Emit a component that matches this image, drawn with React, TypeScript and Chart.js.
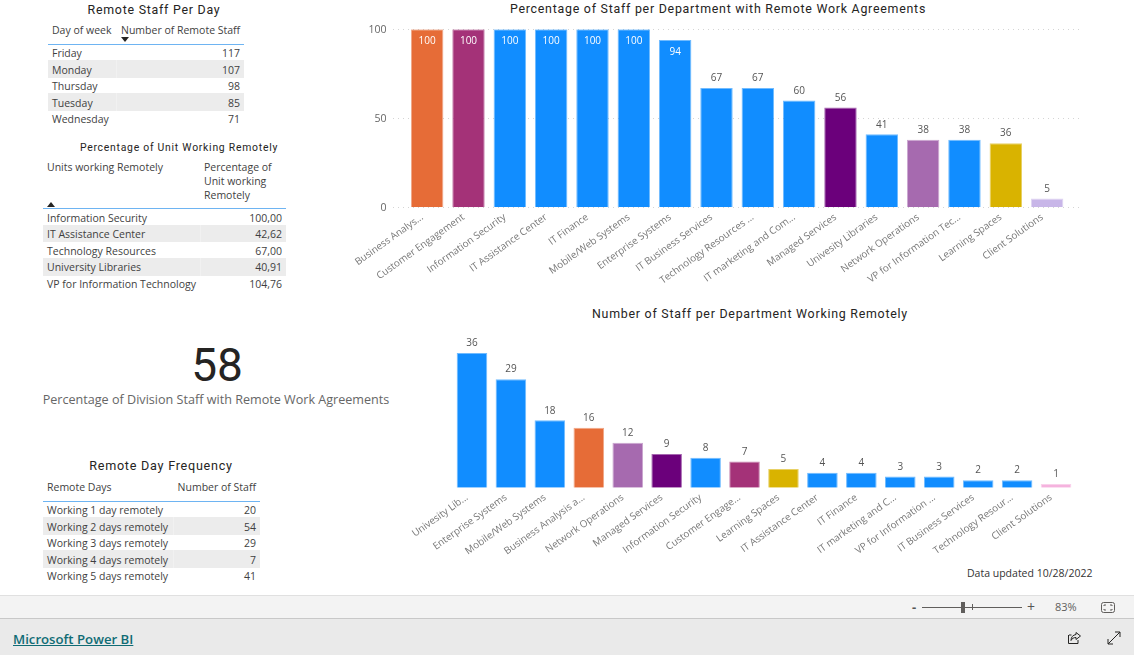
import React, { useEffect, useRef } from "react";
import { Chart, registerables } from "chart.js";

Chart.register(...registerables);

const BODY = "'Open Sans', sans-serif";
const HEAD = "Roboto, sans-serif";

const BLUE = "#118DFF";
const ORANGE = "#E66C37";
const MAGENTA = "#A43278";
const PURPLE = "#6B007B";
const MAUVE = "#A66AAF";
const GOLD = "#D9B300";
const LILAC = "#C8B6E8";
const PINK = "#F5B3DE";

const pctLabels = ["Business Analys...", "Customer Engagement", "Information Security", "IT Assistance Center", "IT Finance", "Mobile/Web Systems", "Enterprise Systems", "IT Business Services", "Technology Resources ...", "IT marketing and Com...", "Managed Services", "Univesity Libraries", "Network Operations", "VP for Information Tec...", "Learning Spaces", "Client Solutions"];
const pctValues = [100, 100, 100, 100, 100, 100, 94, 67, 67, 60, 56, 41, 38, 38, 36, 5];
const pctColors = [ORANGE, MAGENTA, BLUE, BLUE, BLUE, BLUE, BLUE, BLUE, BLUE, BLUE, PURPLE, BLUE, MAUVE, BLUE, GOLD, LILAC];
const pctTicks = [0, 50, 100];

const numLabels = ["Univesity Lib...", "Enterprise Systems", "Mobile/Web Systems", "Business Analysis a...", "Network Operations", "Managed Services", "Information Security", "Customer Engage...", "Learning Spaces", "IT Assistance Center", "IT Finance", "IT marketing and C...", "VP for Information ...", "IT Business Services", "Technology Resour...", "Client Solutions"];
const numValues = [36, 29, 18, 16, 12, 9, 8, 7, 5, 4, 4, 3, 3, 2, 2, 1];
const numColors = [BLUE, BLUE, BLUE, ORANGE, MAUVE, PURPLE, BLUE, MAGENTA, GOLD, BLUE, BLUE, BLUE, BLUE, BLUE, BLUE, PINK];

const dayRows = [["Friday", "117"], ["Monday", "107"], ["Thursday", "98"], ["Tuesday", "85"], ["Wednesday", "71"]];
const unitRows = [["Information Security", "100,00"], ["IT Assistance Center", "42,62"], ["Technology Resources", "67,00"], ["University Libraries", "40,91"], ["VP for Information Technology", "104,76"]];
const freqRows = [["Working 1 day remotely", "20"], ["Working 2 days remotely", "54"], ["Working 3 days remotely", "29"], ["Working 4 days remotely", "7"], ["Working 5 days remotely", "41"]];

const lighten = (hex: string) => hex + "99";

const valueLabels = (insideFrom: number) => ({
  id: "valueLabels",
  afterDatasetsDraw(chart: any) {
    const { ctx } = chart;
    const values = chart.data.datasets[0].data as number[];
    ctx.save();
    ctx.font = `10px ${BODY}`;
    ctx.textAlign = "center";
    ctx.textBaseline = "middle";
    chart.getDatasetMeta(0).data.forEach((bar: any, i: number) => {
      const inside = values[i] >= insideFrom;
      ctx.fillStyle = inside ? "#FFFFFF" : "#555555";
      ctx.fillText(String(values[i]), bar.x, inside ? bar.y + 12.2 : bar.y - 9.6);
    });
    ctx.restore();
  },
});

const wideGrid = (leftExtra: number, rightExtra: number) => ({
  id: "wideGrid",
  beforeDatasetsDraw(chart: any) {
    const { ctx, chartArea, scales } = chart;
    if (!scales.y.options.display) return;
    ctx.save();
    ctx.strokeStyle = "#D4D4D4";
    ctx.lineWidth = 1;
    ctx.setLineDash([1, 4]);
    scales.y.ticks.forEach((t: any) => {
      const y = Math.round(scales.y.getPixelForValue(t.value)) + 0.5;
      ctx.beginPath();
      ctx.moveTo(chartArea.left - leftExtra, y);
      ctx.lineTo(chartArea.right + rightExtra, y);
      ctx.stroke();
    });
    ctx.restore();
  },
});

function BarChart(props: {
  labels: string[]; values: number[]; colors: string[]; max: number; ticks: number[] | null; insideFrom: number;
  left: number; top: number; width: number; height: number; plotLeft: number; plotRight: number; plotTop: number; plotBottom: number;
}) {
  const ref = useRef<HTMLCanvasElement>(null);
  useEffect(() => {
    const { labels, values, colors, max, ticks, insideFrom, left, top, width, height, plotLeft, plotRight, plotTop, plotBottom } = props;
    const showY = !!ticks;
    const chart = new Chart(ref.current as HTMLCanvasElement, {
      type: "bar",
      data: {
        labels,
        datasets: [{
          data: values,
          backgroundColor: colors,
          borderColor: colors.map(lighten),
          borderWidth: 1,
          barPercentage: 0.785,
          categoryPercentage: 1,
        }],
      },
      options: {
        animation: false,
        responsive: false,
        devicePixelRatio: 1,
        layout: {
          padding: {
            left: showY ? 0 : plotLeft - left,
            right: left + width - plotRight,
            top: plotTop - top,
            bottom: 0,
          },
        },
        plugins: { legend: { display: false }, title: { display: false }, tooltip: { enabled: false } },
        scales: {
          x: {
            grid: { display: false, drawTicks: false },
            border: { display: false },
            afterFit: (s: any) => { s.height = top + height - plotBottom; },
            ticks: {
              autoSkip: false, minRotation: 35.5, maxRotation: 35.5, padding: 4, labelOffset: -5,
              color: "#777777", font: { family: BODY, size: 9.9 },
            },
          },
          y: {
            display: showY,
            min: 0,
            max,
            grid: { display: false, drawTicks: true, tickLength: 18 },
            border: { display: false },
            afterFit: (s: any) => { if (showY) s.width = plotLeft - left; },
            afterBuildTicks: (s: any) => { if (ticks) s.ticks = ticks.map((value) => ({ value })); },
            ticks: { padding: 2, labelOffset: 1, color: "#666666", font: { family: BODY, size: 10.5 } },
          },
        },
      },
      plugins: [valueLabels(insideFrom), wideGrid(13.5, 12.5)],
    } as any);
    return () => chart.destroy();
  }, []);
  return (
    <canvas ref={ref} width={props.width} height={props.height}
      style={{ position: "absolute", left: props.left, top: props.top, width: props.width, height: props.height, display: "block" }} />
  );
}

const at = (x: number, y: number, extra: React.CSSProperties = {}): React.CSSProperties => ({
  position: "absolute", left: x, top: y, whiteSpace: "nowrap", lineHeight: "16px", ...extra,
});

function Title(p: { text: string; cx: number; cy: number; size?: number; spacing?: number }) {
  return (
    <div style={at(p.cx - 300, p.cy - 10, { width: 600, textAlign: "center", lineHeight: "20px", color: "#252423", fontFamily: HEAD, fontSize: p.size ?? 12.4, letterSpacing: p.spacing ?? 0.75 })}>{p.text}</div>
  );
}

function Arrow(p: { x: number; y: number; up?: boolean }) {
  return (
    <svg style={{ position: "absolute", left: p.x, top: p.y }} width="8" height="5">
      <polygon points={p.up ? "0,5 8,5 4,0" : "0,0 8,0 4,5"} fill="#252423" />
    </svg>
  );
}

function Rows(p: { rows: string[][]; left: number; right: number; rowYs: number[]; stripes: number[][]; sep: number }) {
  const { rows, left, right, rowYs, stripes, sep } = p;
  return (
    <>
      {stripes.map((s, i) => (
        <div key={"s" + i} style={{ position: "absolute", left, top: s[0], width: right - left, height: s[1] - s[0], background: "#ECECEC" }} />
      ))}
      {stripes.map((s, i) => (
        <div key={"c" + i} style={{ position: "absolute", left: sep, top: s[0], width: 1, height: s[1] - s[0], background: "#F1F1F1" }} />
      ))}
      {rows.map((r, i) => (
        <React.Fragment key={i}>
          <div style={at(left + 4, rowYs[i] - 8, { color: "#3F3F3F" })}>{r[0]}</div>
          <div style={at(right - 104, rowYs[i] - 8, { width: 100, textAlign: "right", color: "#3F3F3F" })}>{r[1]}</div>
        </React.Fragment>
      ))}
    </>
  );
}

const rule = (x: number, w: number, y: number): React.CSSProperties => ({
  position: "absolute", left: x, top: y, width: w, height: 1, background: "#6EB4F2",
});

export default function App() {
  useEffect(() => { document.body.style.margin = "0"; }, []);
  return (
    <div style={{ position: "absolute", left: 0, top: 0, width: 1134, height: 655, overflow: "hidden", background: "#FFFFFF", fontFamily: BODY, fontSize: 10.5 }}>
      <Title text="Remote Staff Per Day" cx={154} cy={10} size={12.4} />
      <div style={at(52, 22, { color: "#3F3F3F" })}>Day of week</div>
      <div style={at(121, 22, { color: "#3F3F3F" })}>Number of Remote Staff</div>
      <Arrow x={121} y={37} />
      <div style={rule(48, 196, 44)} />
      <Rows rows={dayRows} left={48} right={244} rowYs={[53, 70, 86, 103, 119]} stripes={[[60, 78], [93, 111]]} sep={116} />

      <Title text="Percentage of Unit Working Remotely" cx={179} cy={148} size={10.4} />
      <div style={at(47, 159, { color: "#3F3F3F" })}>Units working Remotely</div>
      <div style={at(204, 160, { color: "#3F3F3F", lineHeight: "14px" })}>Percentage of<br />Unit working<br />Remotely</div>
      <Arrow x={47} y={202} up />
      <div style={rule(43, 243, 208)} />
      <Rows rows={unitRows} left={43} right={286} rowYs={[218, 234, 251, 267, 284]} stripes={[[225, 242], [258, 276]]} sep={200} />

      <div style={at(117, 335, { width: 200, textAlign: "center", lineHeight: "60px", fontFamily: HEAD, fontSize: 46, color: "#252423" })}>58</div>
      <div style={at(16, 392, { width: 400, textAlign: "center", color: "#666666", fontSize: 12.6 })}>Percentage of Division Staff with Remote Work Agreements</div>

      <Title text="Remote Day Frequency" cx={161} cy={466} size={12.6} />
      <div style={at(47, 479, { color: "#3F3F3F" })}>Remote Days</div>
      <div style={at(156, 479, { width: 100, textAlign: "right", color: "#3F3F3F" })}>Number of Staff</div>
      <div style={rule(43, 217, 501)} />
      <Rows rows={freqRows} left={43} right={260} rowYs={[510, 527, 543, 560, 576]} stripes={[[517, 535], [550, 568]]} sep={173} />

      <Title text="Percentage of Staff per Department with Remote Work Agreements" cx={718} cy={9} size={12.4} />
      <BarChart labels={pctLabels} values={pctValues} colors={pctColors} max={100} ticks={pctTicks} insideFrom={90}
        left={340} top={20} width={780} height={275} plotLeft={406.5} plotRight={1067.8} plotTop={29.3} plotBottom={207.3} />

      <Title text="Number of Staff per Department Working Remotely" cx={750} cy={314} size={12.4} />
      <BarChart labels={numLabels} values={numValues} colors={numColors} max={40} ticks={null} insideFrom={1000}
        left={340} top={325} width={780} height={240} plotLeft={452.5} plotRight={1075.5} plotTop={338} plotBottom={487.7} />

      <div style={at(967, 565, { color: "#333333", fontSize: 10.5 })}>Data updated 10/28/2022</div>

      <div style={{ position: "absolute", left: 0, top: 595, width: 1134, height: 23, background: "#F3F3F3", borderTop: "1px solid #E0E0E0", boxSizing: "border-box" }} />
      <div style={{ position: "absolute", left: 0, top: 618, width: 1134, height: 37, background: "#EAEAEA", borderTop: "1px solid #C8C8C8", boxSizing: "border-box" }} />
      <div style={at(912, 599, { color: "#555555", fontSize: 13, fontWeight: 700 })}>-</div>
      <div style={{ position: "absolute", left: 922, top: 607, width: 100, height: 1, background: "#605E5C" }} />
      <div style={{ position: "absolute", left: 961, top: 602, width: 4, height: 11, background: "#605E5C" }} />
      <div style={{ position: "absolute", left: 972, top: 604, width: 1, height: 6, background: "#605E5C" }} />
      <div style={at(1027, 599, { color: "#555555", fontSize: 14 })}>+</div>
      <div style={at(1055, 599, { color: "#605E5C", fontSize: 11 })}>83%</div>
      <svg style={{ position: "absolute", left: 1101, top: 602 }} width="14" height="11">
        <rect x="0.5" y="0.5" width="13" height="10" rx="2" fill="none" stroke="#605E5C" />
        <path d="M3 4V3H5M9 3H11V4M11 7V8H9M5 8H3V7" fill="none" stroke="#605E5C" />
      </svg>
      <div style={at(13, 631, { color: "#106C75", fontSize: 13.2, fontWeight: 600, textDecoration: "underline" })}>Microsoft Power BI</div>
      <svg style={{ position: "absolute", left: 1067, top: 631 }} width="15" height="14">
        <path d="M9 1.5L13.5 5 9 8.5V6.5C6.5 6.5 5 7.5 4 9.5 4 6 6 4 9 3.5Z M2 4H4.5M1.5 4V12.5H11V9" fill="none" stroke="#252423" />
      </svg>
      <svg style={{ position: "absolute", left: 1107, top: 631 }} width="14" height="14">
        <path d="M1 13L13 1M8 1H13V6M1 8V13H6" fill="none" stroke="#252423" />
      </svg>
    </div>
  );
}
